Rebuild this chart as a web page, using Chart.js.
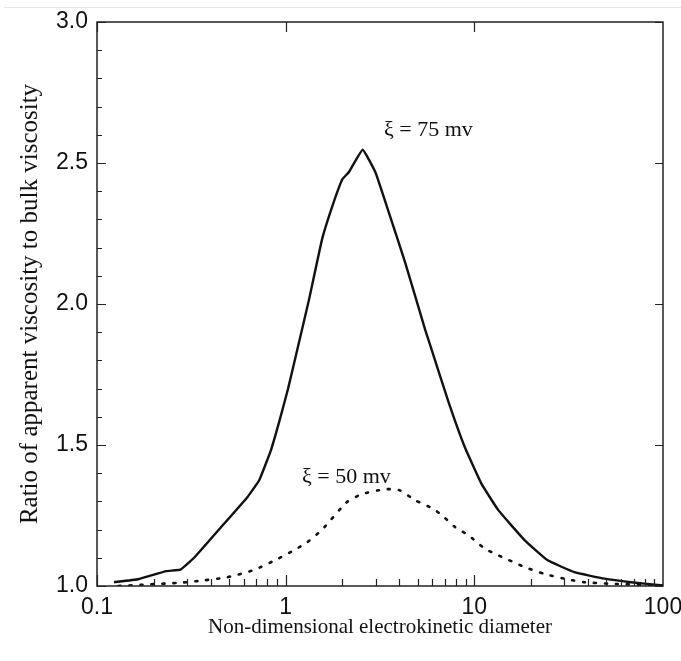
<!DOCTYPE html>
<html><head><meta charset="utf-8">
<script src="https://cdn.jsdelivr.net/npm/chart.js@4"></script>
<style>
html,body{margin:0;padding:0;background:#fff}
#wrap{position:relative;width:681px;height:661px;overflow:hidden}
#scanline{position:absolute;left:4px;right:0;top:7px;height:0;border-top:1px solid #e6e6e6}
canvas{display:block}
</style>
</head><body>
<div id="wrap"><div id="scanline"></div><canvas id="c" width="681" height="661"></canvas></div>
<script>
// ---- data ----
const xTickLabels = ['0.1', '1', '10', '100'];
const yTickLabels = ['1.0', '1.5', '2.0', '2.5', '3.0'];

const zeta75X = [0.123, 0.165, 0.233, 0.277, 0.329, 0.455, 0.628, 0.724, 0.836, 0.93, 1.03, 1.13, 1.33, 1.56, 1.77, 2.0, 2.16, 2.56, 2.99, 3.52, 4.3, 5.48, 5.96, 7.3, 8.93, 10.9, 13.4, 18.5, 24.5, 33.9, 49, 67.6, 100];
const zeta75Y = [1.0135, 1.024, 1.053, 1.058, 1.102, 1.209, 1.316, 1.375, 1.482, 1.589, 1.70, 1.814, 2.016, 2.23, 2.348, 2.443, 2.467, 2.547, 2.467, 2.325, 2.147, 1.91, 1.835, 1.652, 1.49, 1.363, 1.269, 1.162, 1.091, 1.049, 1.026, 1.0135, 1.002];

const zeta50X = [0.13, 0.18, 0.28, 0.37, 0.49, 0.68, 0.92, 1.1, 1.3, 1.56, 2.1, 2.54, 3.36, 4.0, 4.86, 6.0, 6.73, 7.9, 9.3, 11.4, 13.4, 18.5, 23.5, 30, 38, 53, 100];
const zeta50Y = [1.0, 1.005, 1.012, 1.02, 1.031, 1.057, 1.098, 1.126, 1.155, 1.20, 1.296, 1.326, 1.343, 1.34, 1.304, 1.275, 1.251, 1.209, 1.18, 1.132, 1.109, 1.067, 1.043, 1.026, 1.0135, 1.008, 1.002];

const seriesNames = ['ξ = 75 mv', 'ξ = 50 mv'];
const xTitle = 'Non-dimensional electrokinetic diameter';
const yTitle = 'Ratio of apparent viscosity to bulk viscosity';

// ---- chart ----
const toPts = (xs, ys) => xs.map((x, i) => ({x, y: ys[i]}));

const serif = '"Liberation Serif", "Times New Roman", serif';
const sans = '"Liberation Sans", Arial, sans-serif';

const framePlugin = {
  id: 'frame',
  afterDatasetsDraw(chart) {
    const {ctx, chartArea: a, scales: {x, y}} = chart;
    ctx.save();
    ctx.strokeStyle = '#222';
    ctx.lineWidth = 1.5;
    ctx.strokeRect(a.left, a.top, a.right - a.left, a.bottom - a.top);
    ctx.lineWidth = 1.2;
    ctx.beginPath();
    for (let k = 0; k <= 20; k++) {
      const v = 1 + k * 0.1;
      const py = Math.round(y.getPixelForValue(v)) + 0.5;
      const major = k % 5 === 0;
      ctx.moveTo(a.left, py); ctx.lineTo(a.left + (major ? 9 : 5), py);
      if (major) { ctx.moveTo(a.right, py); ctx.lineTo(a.right - 8, py); }
    }
    [0.1, 1, 10].forEach(dec => {
      for (let m = 1; m <= 9; m++) {
        const v = dec * m;
        const px = Math.round(x.getPixelForValue(v)) + 0.5;
        if (m === 1) {
          ctx.moveTo(px, a.bottom); ctx.lineTo(px, a.bottom - 11);
          ctx.moveTo(px, a.top); ctx.lineTo(px, a.top + 10);
        } else {
          ctx.moveTo(px, a.bottom); ctx.lineTo(px, a.bottom - 7);
        }
      }
    });
    ctx.stroke();
    const labelAnchors = chart.options.plugins.frame.labels;
    ctx.fillStyle = '#111';
    ctx.font = '22px ' + serif;
    ctx.textBaseline = 'middle';
    ctx.textAlign = 'left';
    labelAnchors.forEach(l => {
      ctx.fillText(l.text, x.getPixelForValue(l.x), y.getPixelForValue(l.y));
    });
    ctx.restore();
  }
};

new Chart(document.getElementById('c'), {
  type: 'line',
  data: {
    datasets: [
      {
        label: seriesNames[0],
        data: toPts(zeta75X, zeta75Y),
        borderColor: '#111',
        borderWidth: 2.4,
        pointRadius: 0,
        tension: 0.1,
        fill: false
      },
      {
        label: seriesNames[1],
        data: toPts(zeta50X, zeta50Y),
        borderColor: '#111',
        borderWidth: 2.6,
        borderDash: [2, 9],
        borderCapStyle: 'round',
        pointRadius: 0,
        tension: 0.2,
        fill: false
      }
    ]
  },
  options: {
    responsive: false,
    devicePixelRatio: 1,
    animation: false,
    layout: {padding: {top: 22, right: 18, left: 0, bottom: 0}},
    plugins: {
      legend: {display: false},
      tooltip: {enabled: false},
      frame: {
        labels: [
          {text: seriesNames[0], x: 3.32, y: 2.617},
          {text: seriesNames[1], x: 1.22, y: 1.386}
        ]
      }
    },
    scales: {
      x: {
        type: 'logarithmic',
        min: 0.1, max: 100,
        afterBuildTicks: s => { s.ticks = xTickLabels.map(t => ({value: Number(t)})); },
        afterFit: s => { s.height = 75; s.paddingLeft = 0; s.paddingRight = 0; },
        grid: {display: false, drawTicks: false},
        border: {display: false},
        ticks: {
          autoSkip: false, maxRotation: 0, padding: 8,
          color: '#111', font: {family: sans, size: 23},
          callback: (v) => xTickLabels.find(t => Math.abs(Number(t) - v) < 1e-9 * Math.max(1, v)) || ''
        },
        title: {display: true, text: xTitle, color: '#111', font: {family: serif, size: 21}, padding: {top: 4, bottom: 21}}
      },
      y: {
        type: 'linear',
        min: 1.0, max: 3.0,
        afterBuildTicks: s => { s.ticks = yTickLabels.map(t => ({value: Number(t)})); },
        afterFit: s => { s.width = 97; s.paddingTop = 0; s.paddingBottom = 0; },
        grid: {display: false, drawTicks: false},
        border: {display: false},
        ticks: {
          padding: 9, color: '#111', font: {family: sans, size: 23},
          callback: (v) => yTickLabels.find(t => Math.abs(Number(t) - v) < 1e-9) || ''
        },
        title: {display: true, text: yTitle, color: '#111', font: {family: serif, size: 25}, padding: {top: 15, bottom: 0}}
      }
    }
  },
  plugins: [framePlugin]
});
</script>
</body></html>
